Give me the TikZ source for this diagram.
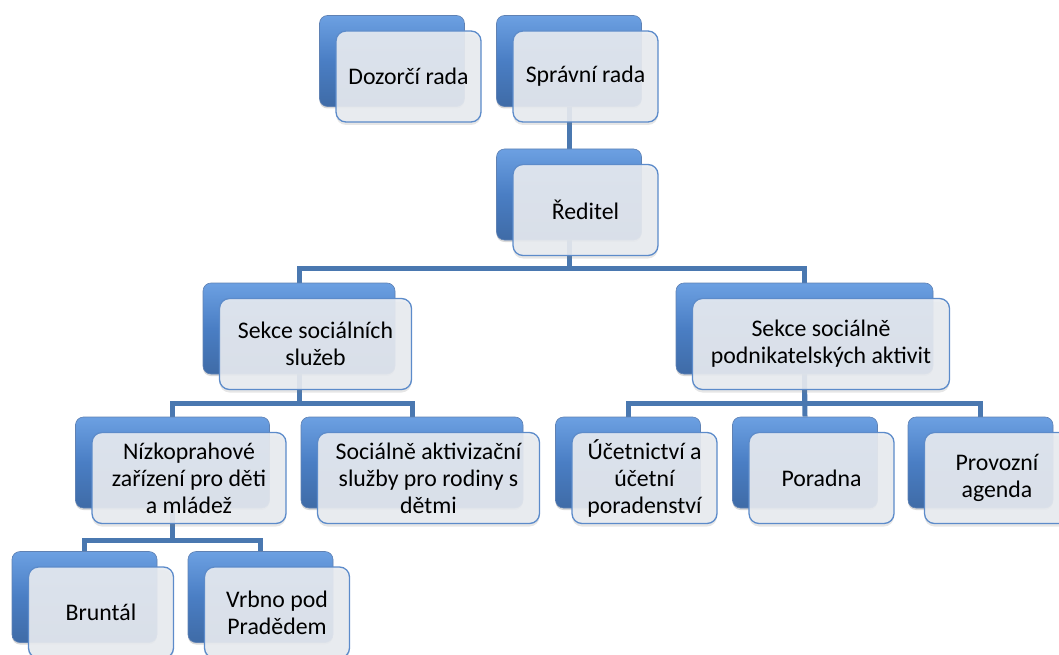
\documentclass[tikz,border=0pt]{standalone}
\usepackage{fontspec}
\setmainfont{Carlito}
\usepackage{tikz}
\definecolor{orgBlueTop}{RGB}{108,160,226}
\definecolor{orgBlue}{RGB}{74,126,196}
\definecolor{orgBlueDark}{RGB}{55,98,160}
\definecolor{orgLine}{RGB}{74,120,176}
\definecolor{orgCard}{RGB}{233,236,241}
\usetikzlibrary{calc,positioning,backgrounds,shadows}

\begin{document}
\begin{tikzpicture}[
  x=1pt,
  y=-1pt,
  every node/.style={align=center},
  backbox/.style={rounded corners=8pt, top color=orgBlueTop, bottom color=orgBlue!85!black, middle color=orgBlue,
    draw=orgBlueDark!80, line width=0.6pt, minimum width=145pt, minimum height=91pt, inner sep=0pt,
    drop shadow={opacity=0.3, shadow xshift=0pt, shadow yshift=-2pt}},
  card/.style={rounded corners=10pt, fill=orgCard, fill opacity=0.9, text opacity=1, draw=orgBlue!90,
    line width=1.3pt, minimum width=145pt, minimum height=91pt, inner sep=2pt,
    font=\fontsize{23.8}{27}\selectfont,
    drop shadow={opacity=0.2, shadow xshift=0pt, shadow yshift=-3pt}},
  conn/.style={draw=orgLine, line width=5pt}
]
\clip (0,0) rectangle (1059,655);

% top row
\node[backbox] (drb) at (392,61) {};
\node[card] (dr) at (408.5,76.5) {Dozorčí rada};
\node[backbox] (spb) at (569,61) {};
\node[card] (sp) at (585.5,76.5) {Správní rada};

% director
\node[backbox] (rdb) at (569,194.5) {};
\node[card] (rd) at (585.5,210) {Ředitel};

% sections
\node[backbox, minimum width=192pt] (ssb) at (299,328.5) {};
\node[card, minimum width=192pt] (ss) at (315.5,344) {Sekce sociálních\\služeb};
\node[backbox, minimum width=257pt] (spab) at (804.5,328.5) {};
\node[card, minimum width=257pt] (spa) at (821,344) {Sekce sociálně\\podnikatelských aktivit};

% services
\node[backbox, minimum width=194pt] (nzb) at (172.5,462.5) {};
\node[card, minimum width=194pt] (nz) at (189,478) {Nízkoprahové\\zařízení pro děti\\a mládež};
\node[backbox, minimum width=222pt] (sab) at (412,462.5) {};
\node[card, minimum width=222pt] (sa) at (428.5,478) {Sociálně aktivizační\\služby pro rodiny s\\dětmi};
\node[backbox] (ucb) at (628,462.5) {};
\node[card] (uc) at (644.5,478) {Účetnictví a\\účetní\\poradenství};
\node[backbox] (pob) at (805,462.5) {};
\node[card] (po) at (821.5,478) {Poradna};
\node[backbox] (pab) at (980.5,462.5) {};
\node[card] (pa) at (997,478) {Provozní\\agenda};

% branches
\node[backbox] (brb) at (84.5,597) {};
\node[card] (br) at (101,612.5) {Bruntál};
\node[backbox] (vpb) at (260.5,597) {};
\node[card] (vp) at (277,612.5) {Vrbno pod\\Pradědem};

\begin{scope}[on background layer]
\draw[conn] (spb.south) -- (rdb.north);
\draw[conn] (ssb.north) -- ++(0,-14) -| (rdb.south);
\draw[conn] (spab.north) -- ++(0,-14) -| (rdb.south);
\draw[conn] (nzb.north) -- ++(0,-13) -| (ssb.south);
\draw[conn] (sab.north) -- ++(0,-13) -| (ssb.south);
\draw[conn] (ucb.north) -- ++(0,-13) -| (spab.south);
\draw[conn] (pob.north) -- (spab.south);
\draw[conn] (pab.north) -- ++(0,-13) -| (spab.south);
\draw[conn] (brb.north) -- ++(0,-11) -| (nzb.south);
\draw[conn] (vpb.north) -- ++(0,-11) -| (nzb.south);
\end{scope}
\end{tikzpicture}
\end{document}
